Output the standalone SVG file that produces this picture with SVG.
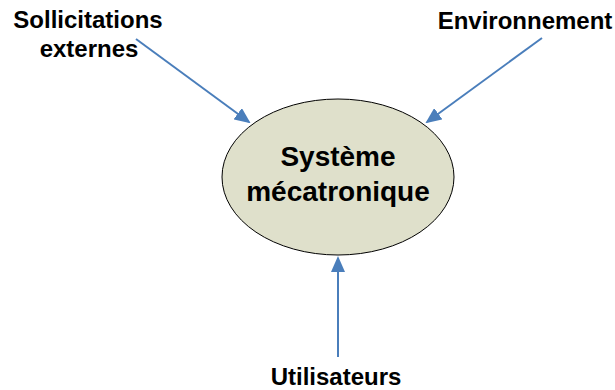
<svg xmlns="http://www.w3.org/2000/svg" width="615" height="390" viewBox="0 0 615 390">
<style>
text{font-family:"Liberation Sans",Arial,sans-serif;font-weight:bold;fill:#000;text-anchor:middle}
.lbl{font-size:24px}
.ctr{font-size:28px}
.conn{stroke:#4a7ebb;stroke-width:2;fill:none;marker-end:url(#ah)}
</style>
<defs>
<marker id="ah" markerWidth="8" markerHeight="7" refX="7" refY="3.5" orient="auto" markerUnits="strokeWidth">
<path d="M0,0 L8,3.5 L0,7 Z" fill="#4a7ebb"/>
</marker>
</defs>
<rect width="615" height="390" fill="#fff"/>
<g id="connectors">
<line class="conn" x1="136" y1="39" x2="249" y2="122"/>
<line class="conn" x1="542" y1="38" x2="427" y2="122"/>
<line class="conn" x1="338" y1="357" x2="338" y2="258"/>
</g>
<g id="systeme">
<ellipse cx="338" cy="177" rx="116" ry="78" fill="#dfe0cb" stroke="#000" stroke-width="1"/>
<text class="ctr" x="338" y="166">Système</text>
<text class="ctr" x="338" y="201">mécatronique</text>
</g>
<g id="sollicitations">
<text class="lbl" x="88" y="28">Sollicitations</text>
<text class="lbl" x="89" y="57">externes</text>
</g>
<g id="environnement">
<text class="lbl" x="525" y="29">Environnement</text>
</g>
<g id="utilisateurs">
<text class="lbl" x="336" y="385">Utilisateurs</text>
</g>
</svg>
